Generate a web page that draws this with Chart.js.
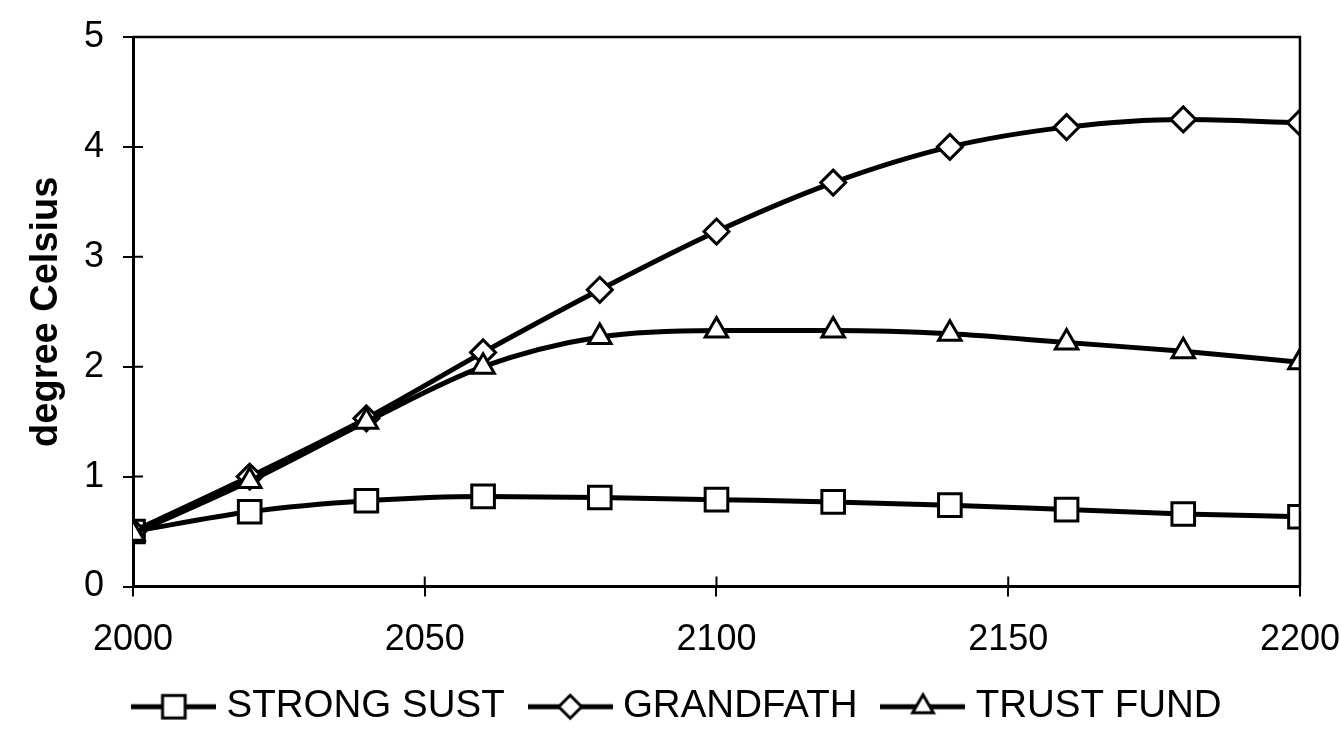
<!DOCTYPE html>
<html>
<head>
<meta charset="utf-8">
<script src="https://cdn.jsdelivr.net/npm/chart.js@4.4.1/dist/chart.umd.min.js"></script>
<style>
  html, body { margin: 0; padding: 0; background: #fff; }
  #wrap { width: 1340px; height: 730px; }
</style>
</head>
<body>
<div id="wrap"><canvas id="chart" width="1340" height="730"></canvas></div>
<script>
// Years (x) and temperature rise (degree Celsius) per scenario
const years = [2000, 2020, 2040, 2060, 2080, 2100, 2120, 2140, 2160, 2180, 2200];
const strongSust = [0.50, 0.68, 0.78, 0.82, 0.81, 0.79, 0.77, 0.74, 0.70, 0.66, 0.635];
const grandfath  = [0.50, 1.00, 1.53, 2.13, 2.70, 3.23, 3.675, 4.00, 4.18, 4.25, 4.22];
const trustFund  = [0.48, 0.96, 1.50, 2.00, 2.27, 2.33, 2.33, 2.30, 2.22, 2.14, 2.04];

const seriesNames = ['STRONG SUST', 'GRANDFATH', 'TRUST FUND'];
const seriesStyles = ['rect', 'rectRot', 'triangle'];
const seriesRadius = [16, 12.5, 13];
const legendRadius = [16, 11.5, 12];

const xMin = 2000, xMax = 2200, xStep = 50;
const yMin = 0, yMax = 5, yStep = 1;

const FONT = '"Liberation Sans", Arial, Helvetica, sans-serif';

function toPoints(vals) {
    return years.map((y, i) => ({ x: y, y: vals[i] }));
}

// legend symbol: short thick line with the marker in the middle
function legendSymbol(style, radius) {
    const c = document.createElement('canvas');
    c.width = 85;
    c.height = 34;
    const ctx = c.getContext('2d');
    ctx.strokeStyle = '#000';
    ctx.lineWidth = 5;
    ctx.beginPath();
    ctx.moveTo(0, 17);
    ctx.lineTo(85, 17);
    ctx.stroke();
    ctx.fillStyle = '#fff';
    ctx.lineWidth = 3;
    Chart.helpers.drawPoint(ctx, { pointStyle: style, rotation: 0, radius: radius, borderWidth: 3 }, 42.5, 17);
    return c;
}

// plot frame (top/right) and the inner halves of the tick marks
const framePlugin = {
    id: 'frame',
    afterDatasetsDraw(chart) {
        const { ctx, chartArea: a, scales } = chart;
        ctx.save();
        ctx.strokeStyle = '#000';
        ctx.lineWidth = 2.5;
        ctx.beginPath();
        ctx.moveTo(a.left, a.top);
        ctx.lineTo(a.right, a.top);
        ctx.lineTo(a.right, a.bottom);
        ctx.stroke();
        ctx.lineWidth = 2;
        ctx.beginPath();
        scales.y.ticks.forEach(t => {
            const py = scales.y.getPixelForValue(t.value);
            ctx.moveTo(a.left, py);
            ctx.lineTo(a.left + 10, py);
        });
        scales.x.ticks.forEach(t => {
            const px = scales.x.getPixelForValue(t.value);
            ctx.moveTo(px, a.bottom);
            ctx.lineTo(px, a.bottom - 10);
        });
        ctx.stroke();
        ctx.restore();
    }
};

const allSeries = [strongSust, grandfath, trustFund];

new Chart(document.getElementById('chart'), {
    type: 'line',
    data: {
        datasets: allSeries.map((vals, i) => ({
            label: seriesNames[i],
            data: toPoints(vals),
            borderColor: '#000',
            borderWidth: 5,
            backgroundColor: '#fff',
            pointStyle: seriesStyles[i],
            pointRadius: seriesRadius[i],
            pointBorderWidth: 3,
            pointBorderColor: '#000',
            pointBackgroundColor: '#fff',
            cubicInterpolationMode: 'monotone',
            order: 3 - i
        }))
    },
    options: {
        responsive: false,
        animation: false,
        events: [],
        layout: { padding: { top: 10, right: 40, left: 62, bottom: -6 } },
        scales: {
            x: {
                type: 'linear',
                min: xMin,
                max: xMax,
                grid: { drawOnChartArea: false, color: '#000', lineWidth: 2, tickLength: 10 },
                border: { color: '#000', width: 3 },
                ticks: {
                    stepSize: xStep,
                    color: '#000',
                    padding: 0,
                    maxRotation: 0,
                    font: { family: FONT, size: 36, lineHeight: 2.4 },
                    callback: v => String(v)
                },
                afterFit(scale) { scale.height = 69; }
            },
            y: {
                min: yMin,
                max: yMax,
                grid: { drawOnChartArea: false, color: '#000', lineWidth: 2, tickLength: 10 },
                border: { color: '#000', width: 3 },
                ticks: {
                    stepSize: yStep,
                    color: '#000',
                    padding: 19,
                    font: { family: FONT, size: 36, lineHeight: 1.0 }
                },
                title: {
                    display: true,
                    text: 'degree Celsius',
                    color: '#000',
                    font: { family: FONT, size: 38, weight: 'bold' },
                    padding: { top: -38, bottom: 0 }
                },
                afterFit(scale) { scale.width = 71; }
            }
        },
        plugins: {
            tooltip: { enabled: false },
            legend: {
                position: 'bottom',
                labels: {
                    color: '#000',
                    font: { family: FONT, size: 38.5 },
                    usePointStyle: true,
                    pointStyleWidth: 67,
                    padding: 32,
                    generateLabels(chart) {
                        return chart.data.datasets.map((ds, i) => ({
                            text: ds.label,
                            fontColor: '#000',
                            pointStyle: legendSymbol(seriesStyles[i], legendRadius[i]),
                            lineWidth: 0,
                            strokeStyle: '#000',
                            fillStyle: '#fff',
                            hidden: false,
                            datasetIndex: i
                        }));
                    }
                }
            }
        }
    },
    plugins: [framePlugin]
});
</script>
</body>
</html>
